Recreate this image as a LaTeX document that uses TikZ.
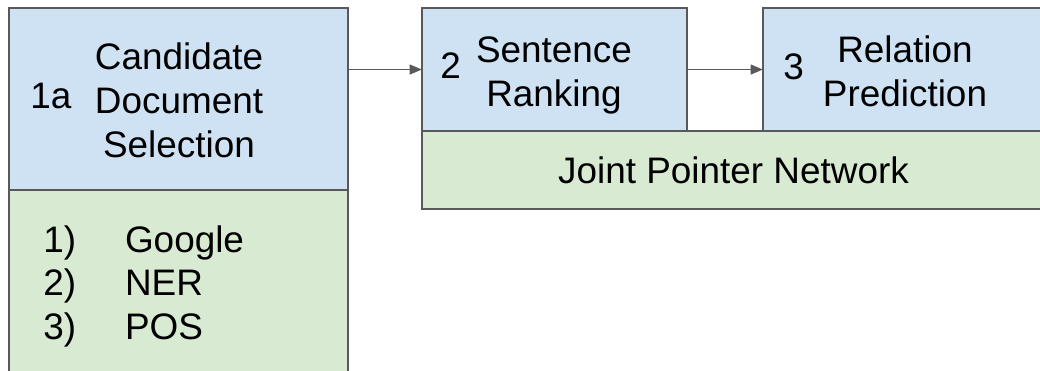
\documentclass[tikz,border=0pt]{standalone}
\usepackage{fontspec}
\setmainfont{Liberation Sans}
\usepackage{tikz}
\usetikzlibrary{arrows.meta}
\definecolor{PipeBlue}{HTML}{CFE2F3}
\definecolor{PipeGreen}{HTML}{D9EAD3}
\definecolor{PipeLine}{HTML}{595959}

\begin{document}
\begin{tikzpicture}[x=0.02cm,y=-0.02cm,
  stage/.style={draw=PipeLine,line width=1.1pt,inner sep=0pt,outer sep=0pt},
  lbl/.style={inner sep=0pt,font=\fontsize{21}{25}\selectfont},
  conn/.style={PipeLine,line width=1.1pt,-{Triangle[length=7pt,width=5.5pt]}}]
\path[use as bounding box] (0,0) rectangle (1040,370);
\clip (0,0) rectangle (1040,370);
% stage boxes
\node[stage,fill=PipeBlue,minimum width=6.78cm,minimum height=3.64cm] (cand) at (178.5,99) {};
\node[stage,fill=PipeGreen,minimum width=6.78cm,minimum height=4cm] (candlist) at (178.5,290) {};
\node[stage,fill=PipeBlue,minimum width=5.30cm,minimum height=2.46cm] (rank) at (554.5,69.5) {};
\node[stage,fill=PipeBlue,minimum width=5.94cm,minimum height=2.46cm] (rel) at (911.5,69.5) {};
\node[stage,fill=PipeGreen,minimum width=12.76cm,minimum height=1.56cm] (jpn) at (741,170) {};
% labels
\node[lbl,anchor=base west] (candnum) at (30,108) {1a};
\node[lbl,align=center] (candtxt) at (179,100) {Candidate\\Document\\Selection};
\node[lbl,anchor=base west] (candsrc) at (43,252)
  {\begin{tabular}[t]{@{}p{46.5pt}@{}l@{}}1)&Google\\2)&NER\\3)&POS\end{tabular}};
\node[lbl,anchor=base west] (ranknum) at (440,78) {2};
\node[lbl,align=center] (ranktxt) at (554,75.5) {Sentence\\Ranking};
\node[lbl,anchor=base west] (relnum) at (783,79) {3};
\node[lbl,align=center] (reltxt) at (905,71.5) {Relation\\Prediction};
\node[lbl,anchor=base] (jpntxt) at (733.5,183) {Joint Pointer Network};
% arrows
\draw[conn] (cand.east |- rank.west) -- (rank.west);
\draw[conn] (rank.east) -- (rel.west);
\end{tikzpicture}
\end{document}
